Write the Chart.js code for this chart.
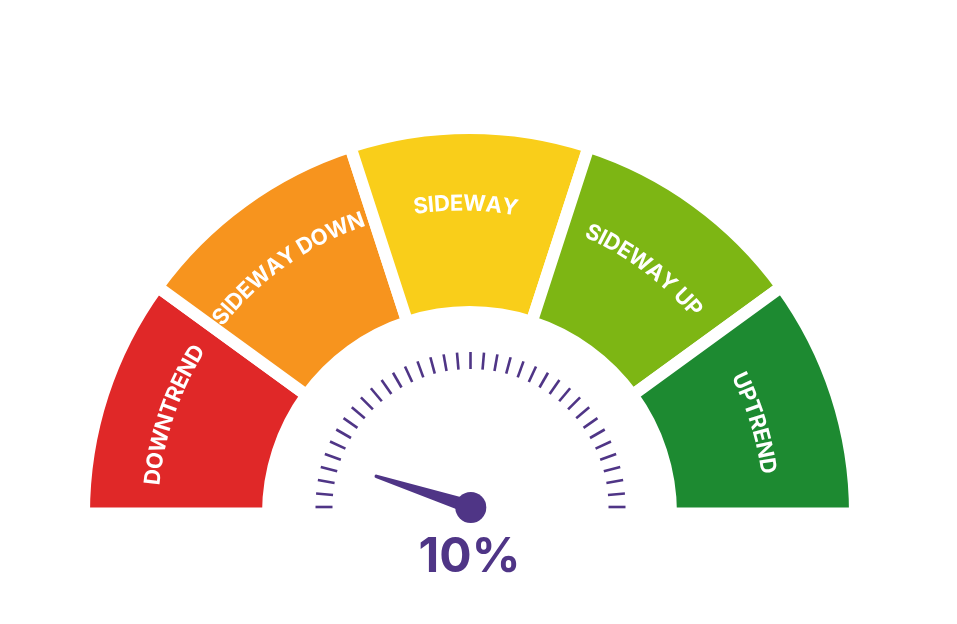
<!DOCTYPE html>
<html><head><meta charset="utf-8">
<script src="https://cdn.jsdelivr.net/npm/chart.js@4.4.1/dist/chart.umd.min.js"></script>
<style>html,body{margin:0;padding:0;background:#fff;}#wrap{width:957px;height:624px;position:relative;}</style>
</head><body><div id="wrap"><canvas id="c"></canvas></div>
<script>
const categories = ['DOWNTREND', 'SIDEWAY DOWN', 'SIDEWAY', 'SIDEWAY UP', 'UPTREND'];
const segmentValues = [20, 20, 20, 20, 20];
const segmentColors = ['#E02828', '#F7941E', '#F9CE1A', '#7DB614', '#1D8A31'];
const gaugeValue = 10;
const gaugeMax = 100;
const valueLabel = gaugeValue + '%';
const tickDivisions = 36;

const PURPLE = '#4F3586';

const gaugePlugin = {
  id: 'gaugeDecor',
  afterDatasetsDraw(chart) {
    const ctx = chart.ctx;
    const arcs = chart.getDatasetMeta(0).data;
    const cx = arcs[0].x, cy = arcs[0].y;
    const start = arcs[0].startAngle;
    const end = arcs[arcs.length - 1].endAngle;
    const span = end - start;

    // curved segment labels
    ctx.save();
    ctx.fillStyle = '#ffffff';
    ctx.font = 'bold 22px Inter';
    ctx.textAlign = 'center';
    ctx.textBaseline = 'alphabetic';
    const tx = cx - 8.5, ty = cy, tr = 311, capHalf = 8;
    arcs.forEach((arc, i) => {
      const chars = [...categories[i]];
      const mid = (arc.startAngle + arc.endAngle) / 2 + 0.9 * Math.PI / 180;
      const widths = chars.map(ch => ctx.measureText(ch).width);
      const total = widths.reduce((s, w) => s + w, 0);
      let acc = -total / 2;
      chars.forEach((ch, k) => {
        const c = acc + widths[k] / 2;
        acc += widths[k];
        const th = mid + c / tr;
        ctx.save();
        ctx.translate(tx + tr * Math.cos(th), ty + tr * Math.sin(th));
        ctx.rotate(th + Math.PI / 2);
        ctx.fillText(ch, 0, capHalf);
        ctx.restore();
      });
    });
    ctx.restore();

    // tick marks
    const gx = cx + 1, gy = cy - 6.5;
    ctx.save();
    ctx.strokeStyle = PURPLE;
    ctx.lineWidth = 2.6;
    ctx.lineCap = 'butt';
    for (let k = 0; k <= tickDivisions; k++) {
      const th = start + span * k / tickDivisions;
      const c = Math.cos(th), s = Math.sin(th);
      ctx.beginPath();
      ctx.moveTo(gx + 138 * c, gy + 138 * s);
      ctx.lineTo(gx + 155 * c, gy + 155 * s);
      ctx.stroke();
    }
    ctx.restore();

    // needle
    const na = start + span * gaugeValue / gaugeMax;
    const ux = Math.cos(na), uy = Math.sin(na);
    const px = -uy, py = ux;
    const len = 99, wb = 7, wt = 1.8;
    ctx.save();
    ctx.fillStyle = PURPLE;
    ctx.beginPath();
    ctx.moveTo(gx + px * wb, gy + py * wb);
    ctx.lineTo(gx + ux * len + px * wt, gy + uy * len + py * wt);
    ctx.arc(gx + ux * len, gy + uy * len, wt, na + Math.PI / 2, na - Math.PI / 2, true);
    ctx.lineTo(gx - px * wb, gy - py * wb);
    ctx.closePath();
    ctx.fill();
    ctx.beginPath();
    ctx.arc(gx + 0.3, gy + 0.5, 15.5, 0, Math.PI * 2);
    ctx.fill();

    // value text
    ctx.font = 'bold 48px Inter';
    ctx.textAlign = 'center';
    ctx.textBaseline = 'alphabetic';
    ctx.fillText(valueLabel, cx, 572);
    ctx.restore();
  }
};

new Chart(document.getElementById('c'), {
  type: 'doughnut',
  data: {
    labels: categories,
    datasets: [{
      data: segmentValues,
      backgroundColor: segmentColors,
      borderColor: '#ffffff',
      borderWidth: 12,
      hoverOffset: 0,
      clip: false
    }]
  },
  options: {
    responsive: true,
    maintainAspectRatio: false,
    devicePixelRatio: 1,
    animation: false,
    events: [],
    rotation: -90,
    circumference: 180,
    radius: 385.5,
    cutout: '52.27%',
    layout: { padding: { left: 0, right: 18, top: 17.5, bottom: 0 } },
    plugins: { legend: { display: false }, tooltip: { enabled: false } }
  },
  plugins: [gaugePlugin]
});
</script>
</body></html>
